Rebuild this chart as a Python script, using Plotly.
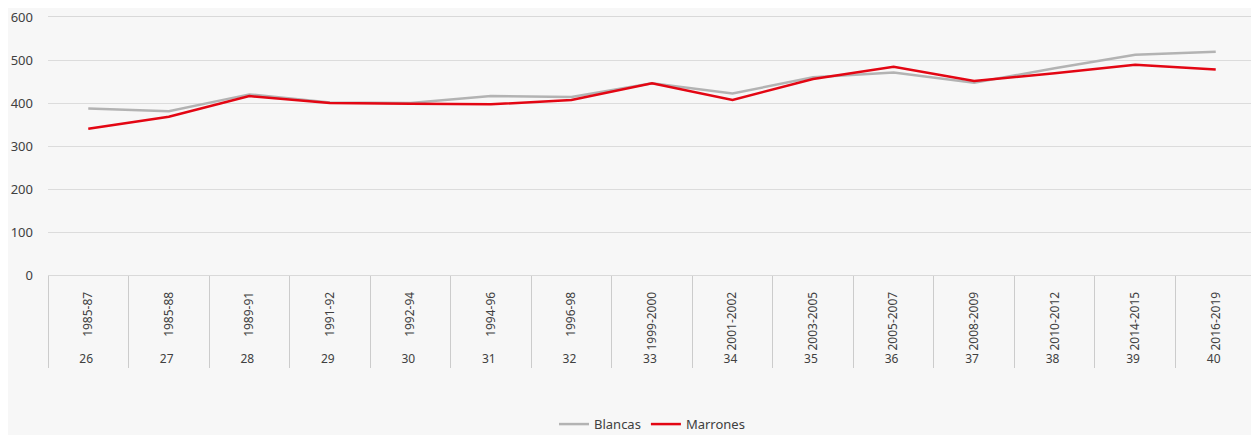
import plotly.graph_objects as go

# ---------- Data ----------
ediciones = ["26", "27", "28", "29", "30", "31", "32", "33", "34", "35",
             "36", "37", "38", "39", "40"]
periodos = ["1985-87", "1985-88", "1989-91", "1991-92", "1992-94", "1994-96",
            "1996-98", "1999-2000", "2001-2002", "2003-2005", "2005-2007",
            "2008-2009", "2010-2012", "2014-2015", "2016-2019"]
blancas = [387, 381, 420, 401, 400, 416, 414, 446, 422, 460, 471, 447, 481, 512, 519]
marrones = [340, 368, 416, 400, 398, 397, 407, 446, 407, 456, 484, 451, 469, 489, 478]

BG = "#f7f7f7"
TEXT = "#404040"

x = [ediciones, periodos]

fig = go.Figure()
fig.add_trace(go.Scatter(x=x, y=blancas, name="Blancas", mode="lines",
                         line=dict(color="#b3b3b3", width=2.5)))
fig.add_trace(go.Scatter(x=x, y=marrones, name="Marrones", mode="lines",
                         line=dict(color="#e30613", width=2.5)))

# page body has an 8px margin, so the figure is sized to what is visible
fig.update_layout(
    width=1251, height=427,
    paper_bgcolor=BG, plot_bgcolor=BG,
    margin=dict(l=40, r=3, t=9, b=160, autoexpand=False),
    font=dict(family="Noto Sans, sans-serif", size=12, color=TEXT),
    showlegend=True,
    legend=dict(orientation="h", x=0.5, xanchor="center", y=-0.578, yanchor="middle",
                font=dict(size=13, color=TEXT), bgcolor="rgba(0,0,0,0)"),
    hovermode=False,
)
# mirrored axis line stands in for the top (600) gridline
fig.update_xaxes(
    type="multicategory", range=[-0.5, len(ediciones) - 0.5],
    tickangle=-90, showgrid=False, automargin=False,
    showdividers=True, dividercolor="#cccccc", dividerwidth=1,
    showline=True, mirror=True, linecolor="#d9d9d9", linewidth=1,
    tickfont=dict(size=12, color=TEXT), ticks="", ticklabelstandoff=11,
)
fig.update_yaxes(
    range=[0, 600], dtick=100, showgrid=True, gridcolor="#dcdcdc", gridwidth=1,
    zeroline=False, showline=False, ticks="", ticklabelstandoff=14, automargin=False,
    ticklabeloverflow="allow", tickfont=dict(size=13, color=TEXT),
)

fig.write_html("out.html")
